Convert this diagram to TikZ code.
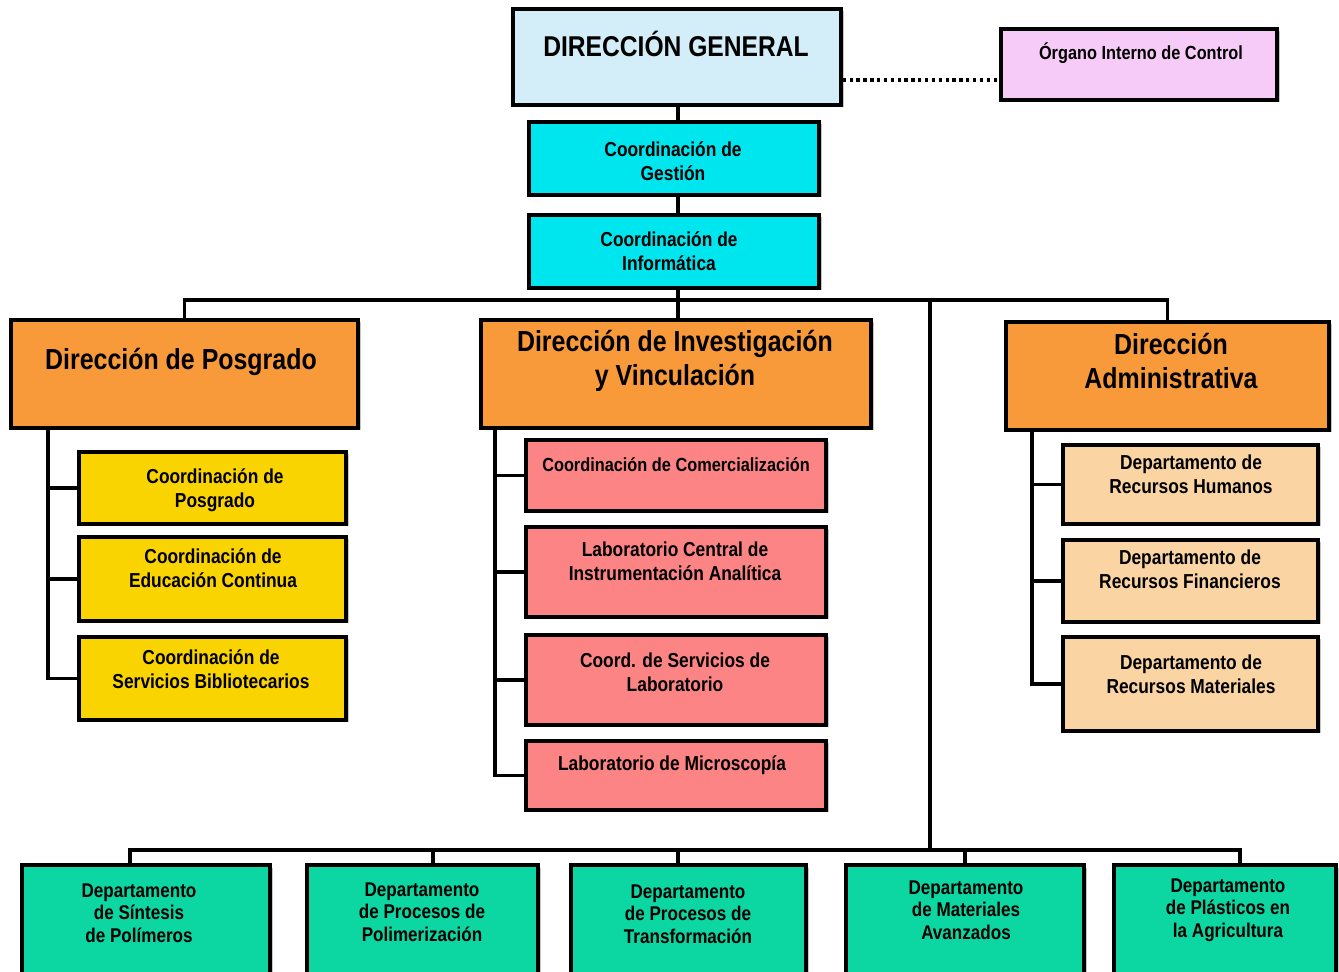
\documentclass[tikz,border=0pt]{standalone}
\usepackage{fontspec}
\setmainfont{Liberation Sans}[FakeStretch=0.86]
\usepackage{xcolor}
\usetikzlibrary{positioning,fit,shadows}

\definecolor{dgblue}{HTML}{D3EEF8}
\definecolor{oicpink}{HTML}{F7CBF7}
\definecolor{coordcyan}{HTML}{00E6EF}
\definecolor{diror}{HTML}{F89A3A}
\definecolor{posyel}{HTML}{FAD400}
\definecolor{invpink}{HTML}{FD8484}
\definecolor{admpeach}{HTML}{FAD4A2}
\definecolor{deptgreen}{HTML}{0CD6A2}

\tikzset{
  box/.style={draw=black, line width=2pt, inner sep=0pt,
    drop shadow={opacity=0.45, shadow xshift=0.05cm, shadow yshift=-0.05cm}},
  conn/.style={line width=1.9pt},
  txt/.style={align=center, inner sep=0pt, font=\bfseries\fontsize{11.5}{13.8}\selectfont},
  bigtxt/.style={align=center, inner sep=0pt, font=\bfseries\fontsize{16.5}{19.5}\selectfont}
}

\begin{document}
\begin{tikzpicture}[x=0.02cm, y=-0.02cm]
\useasboundingbox (0,0) rectangle (1339,972);

% top of the chart
\node[box, fill=dgblue, fit={(513,9) (841,105)}] (dg) {};
\node[box, fill=oicpink, fit={(1001,29) (1277,100)}] (oic) {};
\node[box, fill=coordcyan, fit={(529,122) (819,195)}] (cg) {};
\node[box, fill=coordcyan, fit={(529,215) (819,288)}] (ci) {};

\node[bigtxt, font=\bfseries\fontsize{16.3}{19}\selectfont] (dg-t) at (676,44) {DIRECCIÓN GENERAL};
\node[txt, font=\bfseries\fontsize{10.8}{13}\selectfont] (oic-t) at (1141,53) {Órgano Interno de Control};
\node[txt] (cg-t) at (673,161) {Coordinación de\\Gestión};
\node[txt] (ci-t) at (669,251) {Coordinación de\\Informática};

% direcciones
\node[box, fill=diror, fit={(11,320) (358,428)}] (dp) {};
\node[box, fill=diror, fit={(481,320) (871,428)}] (dv) {};
\node[box, fill=diror, fit={(1006,322) (1329,430)}] (da) {};

\node[bigtxt] (dp-t) at (181,362) {Dirección de Posgrado};
\node[bigtxt] (dv-t) at (675,361) {Dirección de Investigación\\y Vinculación};
\node[bigtxt] (da-t) at (1171,361) {Dirección\\Administrativa};

% posgrado
\node[box, fill=posyel, fit={(79,452) (346,524)}] (y1) {};
\node[box, fill=posyel, fit={(79,537) (346,621)}] (y2) {};
\node[box, fill=posyel, fit={(79,637) (346,720)}] (y3) {};
\node[txt] (y1-t) at (215,490) {Coordinación de\\Posgrado};
\node[txt] (y2-t) at (213,568) {Coordinación de\\Educación Continua};
\node[txt] (y3-t) at (211,669) {Coordinación de\\Servicios Bibliotecarios};

% investigacion
\node[box, fill=invpink, fit={(526,440) (826,511)}] (p1) {};
\node[box, fill=invpink, fit={(526,527) (826,617)}] (p2) {};
\node[box, fill=invpink, fit={(526,635) (826,725)}] (p3) {};
\node[box, fill=invpink, fit={(526,741) (826,810)}] (p4) {};
\node[txt, font=\bfseries\fontsize{10.8}{13}\selectfont] (p1-t) at (676,465) {Coordinación de Comercialización};
\node[txt] (p2-t) at (675,561) {Laboratorio Central de\\Instrumentación Analítica};
\node[txt] (p3-t) at (675,672) {Coord. de Servicios de\\Laboratorio};
\node[txt] (p4-t) at (672,765) {Laboratorio de Microscopía};

% administrativa
\node[box, fill=admpeach, fit={(1063,445) (1318,524)}] (f1) {};
\node[box, fill=admpeach, fit={(1063,540) (1318,622)}] (f2) {};
\node[box, fill=admpeach, fit={(1063,637) (1318,731)}] (f3) {};
\node[txt] (f1-t) at (1191,474) {Departamento de\\Recursos Humanos};
\node[txt] (f2-t) at (1190,569) {Departamento de\\Recursos Financieros};
\node[txt] (f3-t) at (1191,674) {Departamento de\\Recursos Materiales};

% departamentos
\node[box, fill=deptgreen, fit={(22,865) (270,990)}] (g1) {};
\node[box, fill=deptgreen, fit={(307,865) (538,990)}] (g2) {};
\node[box, fill=deptgreen, fit={(571,865) (806,990)}] (g3) {};
\node[box, fill=deptgreen, fit={(846,865) (1084,990)}] (g4) {};
\node[box, fill=deptgreen, fit={(1114,865) (1336,990)}] (g5) {};
\node[txt, font=\bfseries\fontsize{11.3}{12.8}\selectfont] (g1-t) at (139,913) {Departamento\\de Síntesis\\de Polímeros};
\node[txt, font=\bfseries\fontsize{11.3}{12.8}\selectfont] (g2-t) at (422,912) {Departamento\\de Procesos de\\Polimerización};
\node[txt, font=\bfseries\fontsize{11.3}{12.8}\selectfont] (g3-t) at (688,914) {Departamento\\de Procesos de\\Transformación};
\node[txt, font=\bfseries\fontsize{11.3}{12.8}\selectfont] (g4-t) at (966,910) {Departamento\\de Materiales\\Avanzados};
\node[txt, font=\bfseries\fontsize{11.3}{12.8}\selectfont] (g5-t) at (1228,910) {Departamento\\de Plásticos en\\la Agricultura};

% lines
\coordinate (bus) at (678,300);
\coordinate (tap) at (930,300);
\coordinate (bus2) at (930,850);

\draw[line width=1.9pt, dotted] (dg.east |- 0,80) -- (oic.west |- 0,80);
\draw[conn] (dg.south -| bus) -- (cg.north -| bus);
\draw[conn] (cg.south -| bus) -- (ci.north -| bus);
\draw[conn] (ci.south -| bus) -- (bus) -- (dv.north -| bus);
\draw[conn] (dp.north) |- (bus) -| (da.north);
\draw[conn] (tap) -- (bus2);

\draw[conn] (dp.south -| 48,0) |- (y3.west);
\draw[conn] (y1.west) -- (y1.west -| 48,0);
\draw[conn] (y2.west) -- (y2.west -| 48,0);

\draw[conn] (dv.south -| 495,0) |- (p4.west);
\foreach \n in {p1,p2,p3}
  \draw[conn] (\n.west) -- (\n.west -| 495,0);

\draw[conn] (da.south -| 1032,0) |- (f3.west);
\draw[conn] (f1.west) -- (f1.west -| 1032,0);
\draw[conn] (f2.west) -- (f2.west -| 1032,0);

\draw[conn] (g1.north -| 130,0) |- (bus2) -| (g5.north -| 1240,0);
\draw[conn] (g2.north -| 433,0) -- (bus2 -| 433,0);
\draw[conn] (g3.north -| 678,0) -- (bus2 -| 678,0);
\draw[conn] (g4.north -| 965,0) -- (bus2 -| 965,0);
\end{tikzpicture}
\end{document}
